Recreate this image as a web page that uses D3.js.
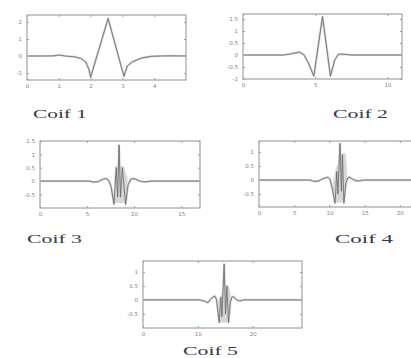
<!DOCTYPE html>
<html>
<head>
<meta charset="utf-8">
<script src="https://cdn.jsdelivr.net/npm/d3@7"></script>
<style>
  html, body { margin: 0; padding: 0; background: #fff; }
  svg { display: block; }
</style>
</head>
<body>
<svg id="chart" width="411" height="358"></svg>
<script>
// Coiflet wavelet functions psi(x), orders 1..5
const waveletNames = ["Coif 1", "Coif 2", "Coif 3", "Coif 4", "Coif 5"];

const xDomains = [[0, 5], [0, 11], [0, 17], [0, 23], [0, 29]];
const yDomains = [[-1.41, 2.41], [-1, 1.71], [-1.01, 1.5], [-0.96, 1.39], [-1, 1.39]];

const xTicks = [[0, 1, 2, 3, 4], [0, 5, 10], [0, 5, 10, 15], [0, 5, 10, 15, 20], [0, 10, 20]];
const yTicks = [[-1, 0, 1, 2], [-1, -0.5, 0, 0.5, 1, 1.5], [-0.5, 0, 0.5, 1, 1.5], [-0.5, 0, 0.5, 1], [-0.5, 0, 0.5, 1]];

const coif1Psi = [[0, 0], [0.5, 0], [0.85, 0.01], [1.0, 0.06], [1.2, 0.0], [1.5, -0.05], [1.7, -0.15],
  [1.85, -0.35], [1.95, -0.8], [2.0, -1.25], [2.55, 2.2], [3.05, -1.2], [3.15, -0.6], [3.3, -0.35],
  [3.6, -0.12], [3.9, -0.02], [4.2, 0], [4.5, 0.01], [5, 0]];

const coif2Psi = [[0, 0], [2.8, 0], [3.3, 0.05], [3.9, 0.12], [4.2, 0.02], [4.5, -0.3], [4.9, -0.88],
  [5.5, 1.6], [6.05, -0.88], [6.35, -0.2], [6.6, 0.03], [6.9, 0.04], [7.5, 0], [11, 0]];

const coif3Psi = [[0, 0], [5.2, 0], [5.7, -0.04], [6.2, -0.02], [6.6, 0.06], [7.0, 0.1], [7.3, 0.02],
  [7.55, -0.2], [7.86, -0.87], [8.1, 0.5], [8.25, -0.6], [8.4, 1.35], [8.55, -0.6], [8.75, 0.5],
  [9.1, -0.87], [9.35, -0.15], [9.65, 0.07], [10.0, 0.09], [10.4, 0.03], [10.8, -0.02], [11.3, -0.03],
  [11.8, 0], [17, 0]];

const coif4Psi = [[0, 0], [7.2, 0], [7.9, -0.05], [8.5, -0.03], [9.2, 0.06], [9.8, 0.1], [10.1, 0.02],
  [10.4, -0.3], [10.8, -0.82], [11.05, 0.3], [11.2, -0.5], [11.5, 1.3], [11.7, -0.4], [11.85, 0.9],
  [12.05, -0.82], [12.35, -0.1], [12.6, 0.08], [12.9, 0.1], [13.3, 0.03], [13.7, -0.02], [14.3, -0.03],
  [14.8, 0], [23, 0]];

const coif5Psi = [[0, 0], [10.4, 0], [11.2, -0.04], [11.8, -0.1], [12.4, 0.05], [13.1, 0.14], [13.4, 0.02],
  [13.6, -0.3], [13.9, -0.8], [14.2, 0.1], [14.4, -0.6], [14.8, 1.28], [15.05, -0.5], [15.3, 0.5],
  [15.6, -0.8], [15.9, -0.1], [16.2, 0.1], [16.5, 0.12], [16.9, 0.04], [17.3, -0.02], [17.8, -0.03],
  [18.3, 0], [29, 0]];

// Envelopes of the densely oscillating centre of the higher orders: [x, low, high]
const coif3Band = [[7.9, -0.8, 0.0], [8.0, -0.82, 0.55], [8.9, -0.82, 0.55], [9.1, -0.8, 0.3], [9.3, -0.3, 0.1]];
const coif4Band = [[10.5, -0.8, -0.1], [10.9, -0.8, 0.4], [11.8, -0.8, 0.95], [12.3, -0.4, 0.95], [12.5, -0.2, 0.2]];
const coif5Band = [[13.7, -0.8, 0.0], [14.2, -0.8, 0.15], [15.0, -0.8, 0.5], [15.7, -0.8, 0.5], [16.1, -0.3, 0.1]];

const curves = [coif1Psi, coif2Psi, coif3Psi, coif4Psi, coif5Psi];
const bands = [null, null, coif3Band, coif4Band, coif5Band];

// Panel placement and caption placement
const layout = [
  { left: 27, top: 15, right: 186, bottom: 80, capX: 33, capY: 118, capW: 54 },
  { left: 243, top: 14, right: 402, bottom: 79, capX: 333, capY: 118, capW: 55 },
  { left: 40, top: 141, right: 200, bottom: 208, capX: 27, capY: 243, capW: 55 },
  { left: 259, top: 141, right: 421, bottom: 207, capX: 335, capY: 243, capW: 58 },
  { left: 143, top: 261, right: 302, bottom: 328, capX: 183, capY: 355, capW: 55 }
];

const svg = d3.select("#chart");
const fmt = d => String(d);

layout.forEach((p, i) => {
  const x = d3.scaleLinear().domain(xDomains[i]).range([p.left, p.right]);
  const y = d3.scaleLinear().domain(yDomains[i]).range([p.bottom, p.top]);
  const g = svg.append("g");

  // frame
  g.append("rect")
    .attr("x", p.left).attr("y", p.top)
    .attr("width", p.right - p.left).attr("height", p.bottom - p.top)
    .attr("fill", "none").attr("stroke", "#8f8f8f").attr("stroke-width", 1);

  // inward ticks on all four sides
  const axisStyle = sel => {
    sel.select(".domain").remove();
    sel.selectAll(".tick line").attr("stroke", "#a0a0a0");
    sel.selectAll(".tick text").attr("fill", "#808080")
      .style("font-family", "DejaVu Sans, sans-serif").style("font-size", "5.5px");
  };
  g.append("g").attr("transform", `translate(0,${p.bottom})`)
    .call(d3.axisBottom(x).tickValues(xTicks[i]).tickFormat(fmt).tickSizeInner(-2).tickPadding(4))
    .call(axisStyle);
  g.append("g").attr("transform", `translate(0,${p.top})`)
    .call(d3.axisTop(x).tickValues(xTicks[i]).tickFormat("").tickSizeInner(-2))
    .call(axisStyle);
  g.append("g").attr("transform", `translate(${p.left},0)`)
    .call(d3.axisLeft(y).tickValues(yTicks[i]).tickFormat(fmt).tickSizeInner(-2).tickPadding(5))
    .call(axisStyle);
  g.append("g").attr("transform", `translate(${p.right},0)`)
    .call(d3.axisRight(y).tickValues(yTicks[i]).tickFormat("").tickSizeInner(-2))
    .call(axisStyle);

  // oscillation envelope
  if (bands[i]) {
    g.append("path").datum(bands[i])
      .attr("d", d3.area().x(d => x(d[0])).y0(d => y(d[1])).y1(d => y(d[2])))
      .attr("fill", "#d6d6d6");
  }

  const line = d3.line().x(d => x(d[0])).y(d => y(d[1]));
  g.append("path").datum(curves[i])
    .attr("d", line).attr("fill", "none")
    .attr("stroke", "#d2d2d2").attr("stroke-width", 2.2).attr("stroke-linejoin", "round");
  g.append("path").datum(curves[i])
    .attr("d", line).attr("fill", "none")
    .attr("stroke", "#666").attr("stroke-width", 0.8).attr("stroke-linejoin", "round");

  // caption
  svg.append("text")
    .attr("x", p.capX).attr("y", p.capY)
    .attr("textLength", p.capW).attr("lengthAdjust", "spacingAndGlyphs")
    .attr("fill", "#333a46")
    .style("font-family", "Liberation Serif, serif").style("font-size", "13px")
    .text(waveletNames[i]);
});
</script>
</body>
</html>
